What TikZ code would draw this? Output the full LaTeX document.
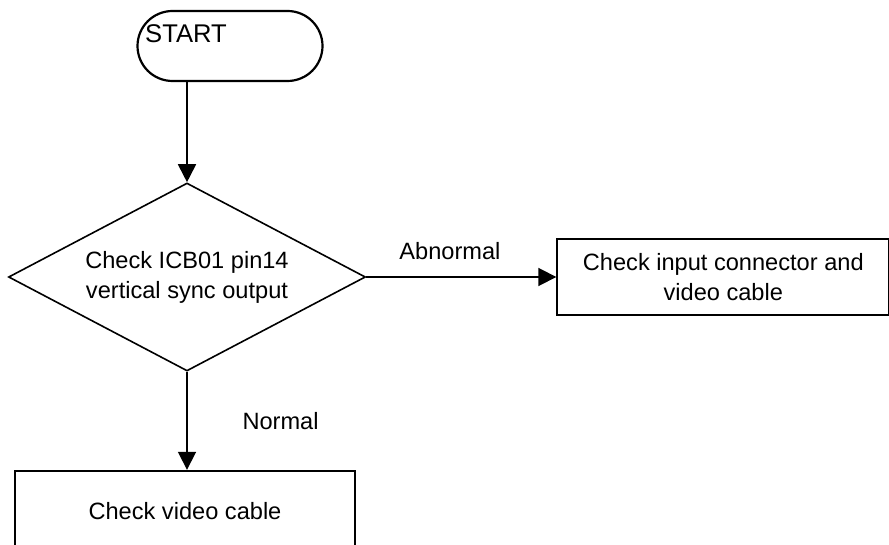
\documentclass[tikz,border=0pt]{standalone}
\usepackage{fontspec}
\setmainfont{Liberation Sans}
\usetikzlibrary{shapes.geometric, arrows.meta, positioning}
\tikzstyle{terminal} = [rectangle, rounded corners=17.5pt, minimum width=92.5pt, minimum height=35pt, draw=black, line width=1.1pt]
\tikzstyle{decision} = [diamond, aspect=1.9, minimum width=178.5pt, minimum height=94pt, inner sep=0pt, align=center, draw=black, line width=0.8pt]
\tikzstyle{block} = [rectangle, minimum width=166pt, minimum height=38pt, align=center, draw=black, line width=1pt]
\tikzstyle{arrow} = [line width=0.9pt, -{Triangle[length=9pt,width=9pt]}]

\begin{document}
\begin{tikzpicture}[x=0.5pt, y=-0.5pt, every node/.style={font=\fontsize{11.8}{15}\selectfont}]
  \useasboundingbox (0,0) rectangle (889,545);
  \clip (0,0) rectangle (889,545);
  \node[terminal] (start) at (230,46) {};
  \node[font=\fontsize{12.8}{15}\selectfont] (starttext) at (186,34) {START};
  \node[decision] (check) at (187,277) {Check ICB01 pin14\\vertical sync output};
  \node[block, right=95pt of check] (input) {Check input connector and\\video cable};
  \node[block, minimum width=170pt, minimum height=40.5pt, below=49pt of check, xshift=-1pt] (video) {Check video cable};

  \draw[arrow] (start.south -| check) -- (check);
  \draw[arrow] (check) -- node[above=5pt, pos=0.44] (abnormal) {Abnormal} (input);
  \draw[arrow] (check) -- node[right=24pt] (normal) {Normal} (video.north -| check);
\end{tikzpicture}
\end{document}
